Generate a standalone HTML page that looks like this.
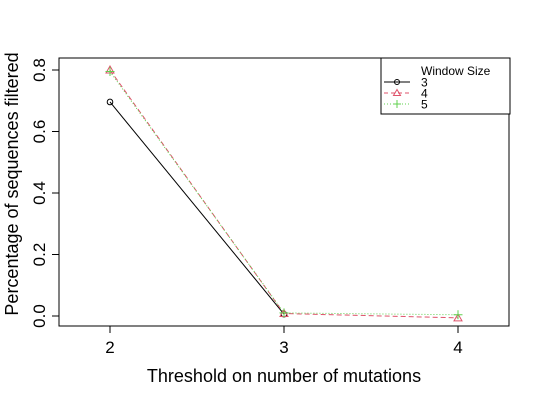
<!DOCTYPE html>
<html><head><meta charset="utf-8"><style>
body{margin:0;background:#fff;}
svg{display:block;font-family:"Liberation Sans",Arial,sans-serif;}
</style></head><body>
<svg id="chart" width="540" height="400" viewBox="0 0 540 400" xmlns="http://www.w3.org/2000/svg">
<rect x="59" y="58" width="450" height="268" fill="none" stroke="#000" stroke-width="1"/>
<g id="axes"></g>
<g id="series"></g>
<text x="284" y="382" font-size="18" text-anchor="middle">Threshold on number of mutations</text>
<text transform="translate(18,184) rotate(-90)" font-size="18" text-anchor="middle">Percentage of sequences filtered</text>
<g>
<rect x="381" y="58" width="129" height="56" fill="#fff" stroke="#000"/>
<text x="421" y="75" font-size="12">Window Size</text>
<line x1="384" y1="82" x2="410" y2="82" stroke="#000"/><circle cx="397" cy="82" r="2.5" fill="none" stroke="#000"/>
<text x="421" y="86.5" font-size="12">3</text>
<line x1="384" y1="93" x2="410" y2="93" stroke="#DF536B" stroke-dasharray="4,3"/><polygon points="397,89.5 400.5,95.5 393.5,95.5" fill="none" stroke="#DF536B"/>
<text x="421" y="97.5" font-size="12">4</text>
<line x1="384" y1="104" x2="410" y2="104" stroke="#61D04F" stroke-dasharray="1,2"/><path d="M393,104H401M397,100V108" stroke="#61D04F"/>
<text x="421" y="108.5" font-size="12">5</text>
</g>
</svg>
<script>
const categories=[2,3,4];
const yTicks=[0,0.2,0.4,0.6,0.8];
const s3=[0.696,0.006,null];
const s4=[0.800,0.008,-0.006];
const s5=[0.795,0.010,0.004];
const NS="http://www.w3.org/2000/svg";
const xs=v=>110+(v-2)*174;
const ys=v=>316-v*307.5;
const ax=document.getElementById('axes'),sg=document.getElementById('series');
function mk(t,a,p){const e=document.createElementNS(NS,t);for(const k in a)e.setAttribute(k,a[k]);p.appendChild(e);return e;}
categories.forEach(c=>{
 const l=mk('line',{x1:xs(c),x2:xs(c),y1:326,y2:333,stroke:'#000'},ax);
 
 
 const t=mk('text',{x:xs(c),y:353,'font-size':17,'text-anchor':'middle'},ax);t.textContent=c;
 
 
});
yTicks.forEach(v=>{
 const l=mk('line',{x1:52,x2:59,y1:ys(v),y2:ys(v),stroke:'#000'},ax);
 
 
 const t=mk('text',{transform:`translate(45,${ys(v)}) rotate(-90)`,'font-size':17,'text-anchor':'middle'},ax);t.textContent=v.toFixed(1);
 
 
});
function series(vals,color,dash,marker,name){
 const g=mk('g',{},sg);
 
 
 let d='',pen=false;
 vals.forEach((v,i)=>{if(v===null){pen=false;return;}d+=(pen?'L':'M')+xs(categories[i])+','+ys(v);pen=true;});
 mk('path',{d:d,fill:'none',stroke:color,'stroke-dasharray':dash},g);
 vals.forEach((v,i)=>{if(v===null)return;const x=xs(categories[i]),y=ys(v);
  if(marker==='c')mk('circle',{cx:x,cy:y,r:2.8,fill:'none',stroke:color},g);
  else if(marker==='t')mk('polygon',{points:`${x},${y-4} ${x+4},${y+3} ${x-4},${y+3}`,fill:'none',stroke:color},g);
  else mk('path',{d:`M${x-4.5},${y}H${x+4.5}M${x},${y-4.5}V${y+4.5}`,stroke:color},g);
 });
}
series(s3,'#000','none','c','series-3');
series(s4,'#DF536B','5,3','t','series-4');
series(s5,'#61D04F','1,2','p','series-5');
</script>
</body></html>
